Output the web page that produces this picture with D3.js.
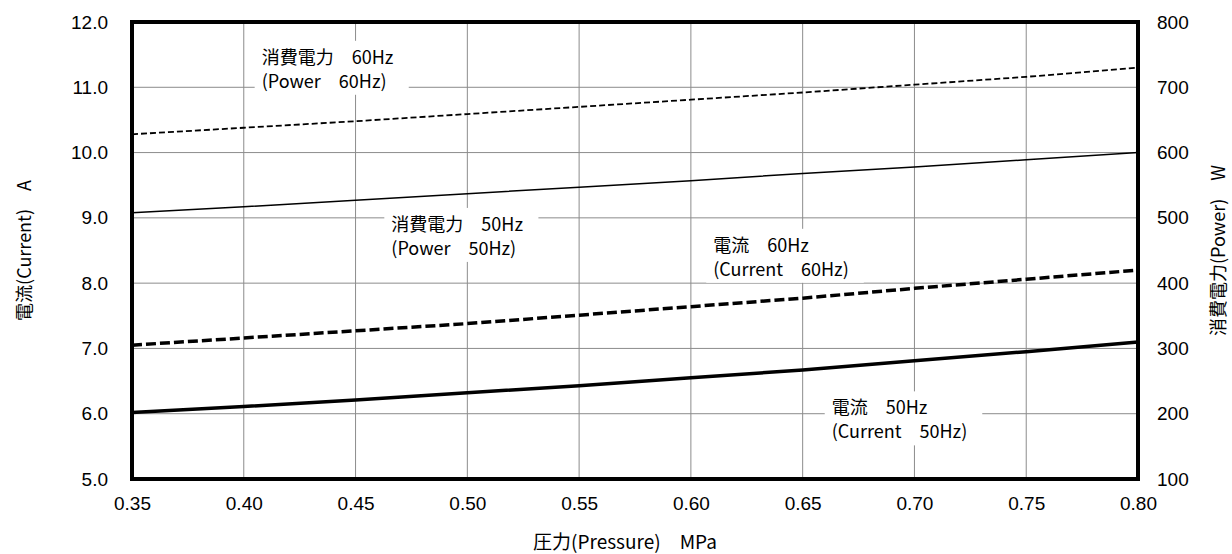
<!DOCTYPE html>
<html><head><meta charset="utf-8">
<script src="https://cdn.jsdelivr.net/npm/d3@7"></script>
<style>
html,body{margin:0;padding:0;background:#fff;}
</style></head>
<body>
<svg id="chart" width="1232" height="554"></svg>
<script>
// ---- data ----
const pressure = [0.35, 0.40, 0.45, 0.50, 0.55, 0.60, 0.65, 0.70, 0.75, 0.80];
const current50 = [6.02, 6.11, 6.21, 6.32, 6.43, 6.55, 6.67, 6.81, 6.95, 7.10];
const current60 = [7.05, 7.16, 7.27, 7.38, 7.51, 7.64, 7.77, 7.92, 8.06, 8.20];
const power50 = [508, 517, 527, 537, 547, 557, 568, 578, 589, 600];
const power60 = [628, 638, 648, 659, 670, 681, 692, 704, 716, 730];
const xTicks = [0.35, 0.40, 0.45, 0.50, 0.55, 0.60, 0.65, 0.70, 0.75, 0.80];
const yLeftTicks = [5, 6, 7, 8, 9, 10, 11, 12];
const yRightTicks = [100, 200, 300, 400, 500, 600, 700, 800];
const labels = [
  {lines: ["消費電力\u300060Hz", "(Power\u300060Hz)"], x: 0.408, y: 11.36},
  {lines: ["消費電力\u300050Hz", "(Power\u300050Hz)"], x: 0.466, y: 8.80},
  {lines: ["電流\u300060Hz", "(Current\u300060Hz)"], x: 0.610, y: 8.48},
  {lines: ["電流\u300050Hz", "(Current\u300050Hz)"], x: 0.663, y: 5.99}
];

const svg = d3.select("#chart");
const L = 132, R = 1138, T = 22, B = 479;
const x = d3.scaleLinear().domain([0.35, 0.80]).range([L, R]);
const yL = d3.scaleLinear().domain([5, 12]).range([B, T]);
const yR = d3.scaleLinear().domain([100, 800]).range([B, T]);

const tickFont = "'Liberation Sans', Arial, sans-serif";
const jpFont = "'Noto Sans CJK JP', sans-serif";

// grid
const g = svg.append("g");
g.selectAll("line.vx").data(xTicks).join("line")
  .attr("x1", d => x(d)).attr("x2", d => x(d)).attr("y1", T).attr("y2", B)
  .attr("stroke", "#8c8c8c").attr("stroke-width", 1);
g.selectAll("line.hy").data(yLeftTicks).join("line")
  .attr("x1", L).attr("x2", R).attr("y1", d => yL(d)).attr("y2", d => yL(d))
  .attr("stroke", "#8c8c8c").attr("stroke-width", 1);

// label backgrounds + labels
const lblG = svg.append("g");
labels.forEach(lb => {
  const grp = lblG.append("g");
  const rect = grp.append("rect").attr("fill", "#fff");
  const texts = lb.lines.map((s, i) => grp.append("text")
    .attr("font-family", jpFont).attr("font-size", 18).attr("fill", "#000")
    .attr("x", x(lb.x)).attr("y", yL(lb.y) + i * 24).text(s));
  const b0 = texts[0].node().getBBox(), b1 = texts[1].node().getBBox();
  const x0 = Math.min(b0.x, b1.x), x1 = Math.max(b0.x + b0.width, b1.x + b1.width);
  rect.attr("x", x0 - 7).attr("y", b0.y - 2).attr("width", x1 - x0 + 22).attr("height", b1.y + b1.height - b0.y + 4);
});

// lines
const lineL = vals => d3.line().x((d, i) => x(pressure[i])).y(d => yL(d))(vals);
const lineR = vals => d3.line().x((d, i) => x(pressure[i])).y(d => yR(d))(vals);
svg.append("path").attr("d", lineR(power60)).attr("fill", "none").attr("stroke", "#000")
  .attr("stroke-width", 1.8).attr("stroke-dasharray", "6,3");
svg.append("path").attr("d", lineR(power50)).attr("fill", "none").attr("stroke", "#000")
  .attr("stroke-width", 1.5);
svg.append("path").attr("d", lineL(current60)).attr("fill", "none").attr("stroke", "#000")
  .attr("stroke-width", 3.5).attr("stroke-dasharray", "10,4");
svg.append("path").attr("d", lineL(current50)).attr("fill", "none").attr("stroke", "#000")
  .attr("stroke-width", 3.5);

// frame
svg.append("rect").attr("x", L).attr("y", T).attr("width", R - L).attr("height", B - T)
  .attr("fill", "none").attr("stroke", "#000").attr("stroke-width", 4);

// axes (text only, via d3 axes)
const axB = svg.append("g").attr("transform", `translate(0,${B})`)
  .call(d3.axisBottom(x).tickValues(xTicks).tickFormat(d3.format(".2f")).tickSize(0).tickPadding(18));
const axL = svg.append("g").attr("transform", `translate(${L},0)`)
  .call(d3.axisLeft(yL).tickValues(yLeftTicks).tickFormat(d3.format(".1f")).tickSize(0).tickPadding(24));
const axR = svg.append("g").attr("transform", `translate(${R},0)`)
  .call(d3.axisRight(yR).tickValues(yRightTicks).tickFormat(d3.format("d")).tickSize(0).tickPadding(19));
[axB, axL, axR].forEach(a => {
  a.select(".domain").remove();
  a.selectAll("text").attr("font-family", tickFont).attr("font-size", 19).attr("fill", "#000");
});

// axis titles
svg.append("text").attr("x", 625).attr("y", 549).attr("text-anchor", "middle")
  .attr("font-family", jpFont).attr("font-size", 19).text("圧力(Pressure)\u3000MPa");
svg.append("text").attr("transform", `translate(31,${(T + B) / 2}) rotate(-90)`).attr("text-anchor", "middle")
  .attr("font-family", jpFont).attr("font-size", 18).text("電流(Current)\u3000A");
svg.append("text").attr("transform", `translate(1225,${(T + B) / 2}) rotate(-90)`).attr("text-anchor", "middle")
  .attr("font-family", jpFont).attr("font-size", 18).text("消費電力(Power)\u3000W");
</script>
</body></html>
